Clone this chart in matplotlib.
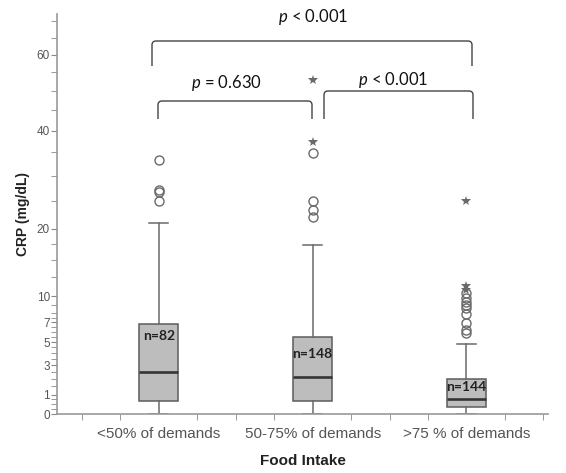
import numpy as np
import matplotlib
matplotlib.use("Agg")
import matplotlib.pyplot as plt
from matplotlib.path import Path
from matplotlib.patches import PathPatch

# data (CRP, mg/dL)
groups = ['<50% of demands', '50-75% of demands', '>75 % of demands']
n_labels = ['n=82', 'n=148', 'n=144']
q1 = [0.66, 0.66, 0.32]
med = [2.52, 2.16, 0.75]
q3 = [6.78, 5.44, 1.97]
whis_lo = [0.0, 0.0, 0.0]
whis_hi = [21.0, 17.3, 4.8]
outl_circle = [[33.3, 27.1, 26.8, 24.9],
               [34.9, 24.9, 23.3, 22.1],
               [10.4, 9.76, 9.35, 8.95, 8.56, 7.9, 6.88, 6.18, 5.85]]
outl_star = [[], [52.9, 37.4], [25.05, 11.3, 10.8]]
y_major = [0, 1, 3, 5, 7, 10, 20, 40, 60]

W, H = 566, 473
plt.rcParams['mathtext.fontset'] = 'custom'
plt.rcParams['mathtext.rm'] = 'Lato'
plt.rcParams['mathtext.it'] = 'Lato:italic'

fig = plt.figure(figsize=(W / 100, H / 100), dpi=100)
ax = fig.add_axes([57 / W, 1 - 414 / H, (548 - 57) / W, (414 - 14) / H])

# SPSS-like compressed y scale
fwd = lambda v: np.sqrt(np.clip(np.asarray(v, float) + 1.5, 0, None))
inv = lambda w: np.square(w) - 1.5
ax.set_yscale('function', functions=(fwd, inv))

pos = np.arange(1, len(groups) + 1)
stats = []
for i in range(len(groups)):
    stats.append(dict(med=med[i], q1=q1[i], q3=q3[i], whislo=whis_lo[i],
                      whishi=whis_hi[i], fliers=[]))
ax.bxp(stats, positions=pos, widths=0.255, showfliers=False, patch_artist=True,
       boxprops=dict(facecolor='#bdbdbd', edgecolor='#5c5c5c', linewidth=1.1),
       medianprops=dict(color='#353535', linewidth=1.9),
       whiskerprops=dict(color='#6a6a6a', linewidth=1.1),
       capprops=dict(color='#6a6a6a', linewidth=1.1), capwidths=0.125)

for i, p in enumerate(pos):
    yc = outl_circle[i]
    ax.plot([p] * len(yc), yc, 'o', ms=6.5, mfc='none', mec='#6a6a6a', mew=1)
    ys = outl_star[i]
    if ys:
        ax.plot([p] * len(ys), ys, '*', ms=7, color='#6a6a6a', mew=0)

# n labels inside boxes
n_y = [5.58, 3.93, 1.47]
for p, t, yy in zip(pos, n_labels, n_y):
    ax.text(p, yy, t, ha='center', va='center', fontsize=10, fontweight='bold',
            family='Lato', color='#222222')

ax.set_xlim(0.338, 3.53)
ax.set_ylim(0, 72.3)
ax.set_xticks(pos)
ax.set_xticklabels(groups, fontsize=11, color='#555555', family='Liberation Sans')
ax.set_xticks([0.5, 0.75, 1.25, 1.5, 1.75, 2.25, 2.5, 2.75, 3.25, 3.5], minor=True)
ax.tick_params(axis='x', which='major', length=0, pad=9)
ax.tick_params(axis='x', which='minor', length=4, color='#888888')

ax.set_yticks(y_major)
ax.set_yticklabels([str(v) for v in y_major], fontsize=8.5, color='#555555',
                   family='Liberation Sans')
y_minor = [0.25, 0.5, 0.75] + list(np.arange(1.5, 8.5, 0.5)) + [9, 12.5, 15, 17.5] + \
    list(range(25, 75, 5))
y_minor = [v for v in y_minor if v not in y_major]
ax.set_yticks(y_minor, minor=True)
ax.tick_params(axis='y', which='both', length=4, pad=1, color='#888888')

for s in ['top', 'right']:
    ax.spines[s].set_visible(False)
for s in ['left', 'bottom']:
    ax.spines[s].set_color('#999999')
    ax.spines[s].set_linewidth(1.2)

ax.set_xlabel('Food Intake', fontsize=11, fontweight='bold', color='#222222',
              family='Liberation Sans', labelpad=10)
ax.set_ylabel('CRP (mg/dL)', fontsize=10, fontweight='bold', color='#222222',
              family='Liberation Sans', labelpad=5)


def px(x, y):
    return (x / W, 1 - y / H)


def bracket(x0, x1, ytop, ybot, r=4):
    pts = [(x0, ybot), (x0, ytop + r), (x0, ytop), (x0 + r, ytop),
           (x1 - r, ytop), (x1, ytop), (x1, ytop + r), (x1, ybot)]
    codes = [Path.MOVETO, Path.LINETO, Path.CURVE3, Path.CURVE3,
             Path.LINETO, Path.CURVE3, Path.CURVE3, Path.LINETO]
    patch = PathPatch(Path([px(*p) for p in pts], codes), transform=fig.transFigure,
                      fill=False, edgecolor='#444444', linewidth=1)
    fig.add_artist(patch)


bracket(152, 472, 41, 66)
bracket(158, 312, 101, 119)
bracket(324, 473, 91, 119)

for (x, y), t in zip([(313, 17), (226, 83), (393, 80)],
                     [r'$p$ < 0.001', r'$p$ = 0.630', r'$p$ < 0.001']):
    fig.text(*px(x, y), t, ha='center', va='center', fontsize=12, family='Lato',
             color='#111111')

fig.savefig('out.png', dpi=100)
